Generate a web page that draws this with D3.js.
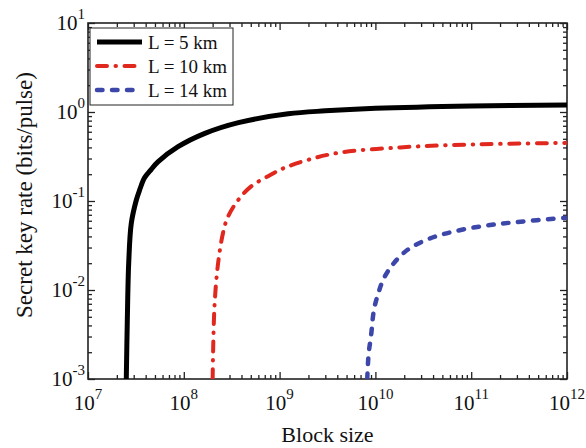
<!DOCTYPE html>
<html>
<head>
<meta charset="utf-8">
<script src="https://cdn.jsdelivr.net/npm/d3@7"></script>
<style>
  body { margin: 0; background: #fff; }
  text { font-family: "Liberation Serif", "Times New Roman", serif; fill: #111; }
</style>
</head>
<body>
<script>
// block size vs secret key rate
var seriesNames = ["L = 5 km", "L = 10 km", "L = 14 km"];

var x5  = [2.51e7, 2.57e7, 2.66e7, 2.83e7, 3.19e7, 3.46e7, 3.89e7, 4.58e7, 5.37e7, 8.71e7, 1.66e8, 3.72e8, 1.23e9, 3.0e9, 1e10, 1e11, 1e12];
var y5  = [1e-3, 4.3e-3, 0.020, 0.056, 0.102, 0.133, 0.182, 0.227, 0.275, 0.407, 0.575, 0.759, 0.955, 1.03, 1.10, 1.17, 1.20];

var x10 = [2.0e8, 2.09e8, 2.28e8, 2.57e8, 2.88e8, 3.68e8, 5.01e8, 7.59e8, 1.17e9, 3.63e9, 1.82e10, 8.91e10, 1e12];
var y10 = [1e-3, 6.5e-3, 0.020, 0.044, 0.066, 0.102, 0.145, 0.19, 0.24, 0.34, 0.40, 0.43, 0.45];

var x14 = [8.22e9, 8.51e9, 8.99e9, 9.66e9, 1.07e10, 1.20e10, 1.41e10, 1.74e10, 2.29e10, 3.72e10, 6.46e10, 1.35e11, 2.75e11, 1e12];
var y14 = [1e-3, 1.95e-3, 3.0e-3, 6.0e-3, 9.1e-3, 0.0129, 0.0174, 0.0229, 0.0295, 0.038, 0.0452, 0.0525, 0.0575, 0.065];

var xMajor = [1e7, 1e8, 1e9, 1e10, 1e11, 1e12];
var xExp   = ["7", "8", "9", "10", "11", "12"];
var yMajor = [1e-3, 1e-2, 1e-1, 1e0, 1e1];
var yExp   = ["-3", "-2", "-1", "0", "1"];

var width = 586, height = 448;
var pL = 88, pR = 567, pT = 23, pB = 379;

var svg = d3.select("body").append("svg")
    .attr("width", width)
    .attr("height", height);

var x = d3.scaleLog().domain([1e7, 1e12]).range([pL, pR]);
var y = d3.scaleLog().domain([1e-3, 1e1]).range([pB, pT]);

var xMinor = x.ticks().filter(function(d) { return xMajor.indexOf(d) < 0; });
var yMinor = y.ticks().filter(function(d) { return yMajor.indexOf(d) < 0; });

// ticks on all four sides, pointing inward
function ticks(axisFn, scale, vals, size, tx, ty) {
  var g = svg.append("g")
      .attr("transform", "translate(" + tx + "," + ty + ")")
      .call(axisFn(scale).tickValues(vals).tickSize(size).tickSizeOuter(0).tickFormat(""));
  g.select(".domain").remove();
  g.selectAll("line").attr("stroke", "#222").attr("stroke-width", 1.3);
}
ticks(d3.axisBottom, x, xMajor, -7, 0, pB);
ticks(d3.axisBottom, x, xMinor, -4, 0, pB);
ticks(d3.axisTop, x, xMajor, -7, 0, pT);
ticks(d3.axisTop, x, xMinor, -4, 0, pT);
ticks(d3.axisLeft, y, yMajor, -7, pL, 0);
ticks(d3.axisLeft, y, yMinor, -4, pL, 0);
ticks(d3.axisRight, y, yMajor, -7, pR, 0);
ticks(d3.axisRight, y, yMinor, -4, pR, 0);

svg.append("rect")
    .attr("x", pL).attr("y", pT)
    .attr("width", pR - pL).attr("height", pB - pT)
    .attr("fill", "none").attr("stroke", "#222").attr("stroke-width", 1.6);

// tick labels 10^n
xMajor.forEach(function(v, i) {
  var t = svg.append("text")
      .attr("x", x(v)).attr("y", pB + 31)
      .attr("text-anchor", "middle")
      .style("font-size", "21px");
  t.append("tspan").text("10");
  t.append("tspan").attr("dy", -11).style("font-size", "15px").text(xExp[i]);
});

yMajor.forEach(function(v, i) {
  var t = svg.append("text")
      .attr("x", pL - 3).attr("y", y(v) + 7)
      .attr("text-anchor", "end")
      .style("font-size", "21px");
  t.append("tspan").text("10");
  t.append("tspan").attr("dy", -11).style("font-size", "15px").text(yExp[i]);
});

svg.append("text")
    .attr("x", (pL + pR) / 2).attr("y", 442)
    .attr("text-anchor", "middle")
    .style("font-size", "22px")
    .text("Block size");

svg.append("text")
    .attr("transform", "translate(32," + 195 + ") rotate(-90)")
    .attr("text-anchor", "middle")
    .style("font-size", "23px")
    .text("Secret key rate (bits/pulse)");

// curves
svg.append("clipPath").attr("id", "plot")
  .append("rect")
    .attr("x", pL).attr("y", pT)
    .attr("width", pR - pL).attr("height", pB - pT);

var line = d3.line()
    .x(function(d) { return x(d[0]); })
    .y(function(d) { return y(d[1]); })
    .curve(d3.curveCatmullRom.alpha(0.5));

var styles = [
  { color: "#000000", w: 5,   dash: null },
  { color: "#e0281f", w: 4,   dash: "10,8.5,0.5,8.5" },
  { color: "#3d47aa", w: 4.5, dash: "5.5,9.5" }
];
var xs = [x5, x10, x14], ys = [y5, y10, y14];

xs.forEach(function(xv, k) {
  var pts = xv.map(function(d, i) { return [d, ys[k][i]]; });
  svg.append("path")
      .attr("d", line(pts))
      .attr("clip-path", "url(#plot)")
      .attr("fill", "none")
      .attr("stroke", styles[k].color)
      .attr("stroke-width", styles[k].w)
      .attr("stroke-linecap", styles[k].dash ? "round" : "butt")
      .attr("stroke-linejoin", "round")
      .attr("stroke-dasharray", styles[k].dash);
});

// legend
svg.append("rect")
    .attr("x", 90).attr("y", 28)
    .attr("width", 143).attr("height", 77)
    .attr("fill", "#fff").attr("stroke", "#222").attr("stroke-width", 1);

seriesNames.forEach(function(name, k) {
  var ly = 42 + k * 24;
  svg.append("line")
      .attr("x1", 97).attr("x2", 142)
      .attr("y1", ly).attr("y2", ly)
      .attr("stroke", styles[k].color)
      .attr("stroke-width", styles[k].w)
      .attr("stroke-linecap", styles[k].dash ? "round" : "butt")
      .attr("stroke-dasharray", styles[k].dash);
  svg.append("text")
      .attr("x", 148).attr("y", ly + 6.5)
      .style("font-size", "19px")
      .text(name);
});
</script>
</body>
</html>
